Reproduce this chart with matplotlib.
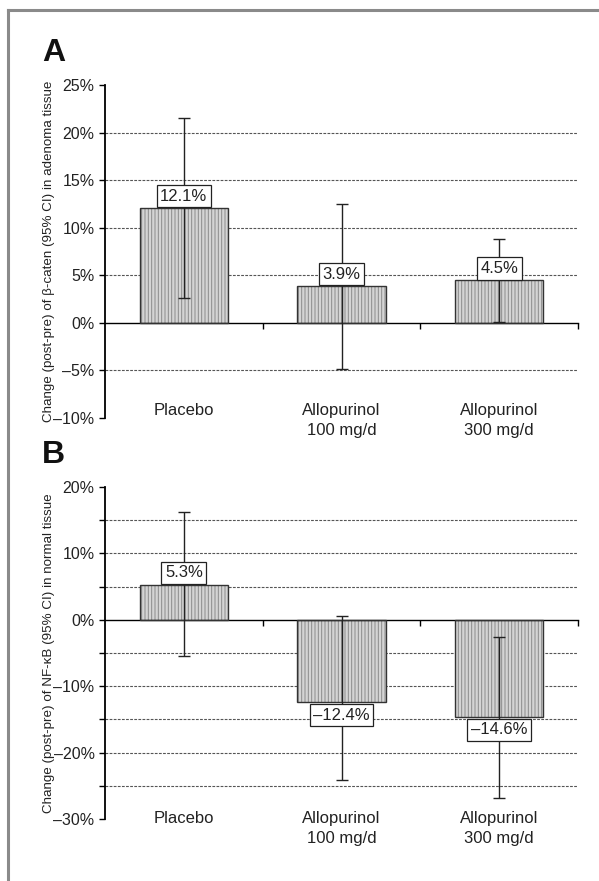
import numpy as np
import matplotlib.pyplot as plt
from matplotlib.lines import Line2D
from matplotlib.transforms import blended_transform_factory

plt.rcParams['font.family'] = ['Liberation Sans', 'DejaVu Sans']
plt.rcParams['hatch.linewidth'] = 0.7

# Datos
groups = ['Placebo', 'Allopurinol\n100 mg/d', 'Allopurinol\n300 mg/d']

a_vals = [12.1, 3.9, 4.5]
a_lo = [2.6, -4.9, 0.1]
a_hi = [21.5, 12.5, 8.8]
a_ticks = [25, 20, 15, 10, 5, 0, -5, -10]
a_grid = [20, 15, 10, 5, -5]

b_vals = [5.3, -12.4, -14.6]
b_lo = [-5.5, -24.2, -26.8]
b_hi = [16.2, 0.6, -2.6]
b_ticks = [20, 10, 0, -10, -20, -30]
b_grid = [15, 10, 5, -5, -10, -15, -20, -25]

a_ylabel = 'Change (post-pre) of \u03b2-caten (95% CI) in adenoma tissue'
b_ylabel = 'Change (post-pre) of NF-\u03baB (95% CI) in normal tissue'


def pct(v):
    return ('\u2013' if v < 0 else '') + '%g%%' % abs(v)


fig = plt.figure(figsize=(5.99, 8.81), dpi=100)

# Marco gris (arriba e izquierda)
fig.add_artist(Line2D([8/599, 1], [1 - 10/881, 1 - 10/881], color='#8a8a8a', lw=2.2))
fig.add_artist(Line2D([8/599, 8/599], [0, 1 - 10/881], color='#8a8a8a', lw=2.2))


def panel(rect, vals, lo, hi, ticks, grid, minor, ylabel, letter, letter_y, cat_off):
    ax = fig.add_axes(rect)
    x = np.arange(len(vals))
    ax.set_xlim(-0.5, len(vals) - 0.5)
    ax.set_ylim(min(ticks), max(ticks))

    ax.hlines(grid, -0.5, len(vals) - 0.5, colors='#555555', lw=0.8,
              linestyles=(0, (2.5, 1.2)), zorder=1)

    ax.bar(x, vals, width=0.56, facecolor='#d4d4d4', edgecolor='#8a8a8a',
           hatch='|||||', lw=0, zorder=2)
    ax.bar(x, vals, width=0.56, fill=False, edgecolor='#333333', lw=1, zorder=3)

    vals = np.array(vals)
    err = [vals - np.array(lo), np.array(hi) - vals]
    ax.errorbar(x, vals, yerr=err, fmt='none', ecolor='#222222', elinewidth=1,
                capsize=4, capthick=1, zorder=4)

    for xi, v in zip(x, vals):
        off = 3 if v >= 0 else -4
        ax.annotate(pct(v), (xi, v), xytext=(0, off), textcoords='offset points',
                    ha='center', va='bottom' if v >= 0 else 'top', fontsize=12,
                    color='#222222',
                    bbox=dict(boxstyle='square,pad=0.22', fc='white', ec='#222222', lw=0.9),
                    zorder=5)

    for s in ['top', 'right']:
        ax.spines[s].set_visible(False)
    ax.spines['bottom'].set_position(('data', 0))
    ax.spines['bottom'].set_linewidth(1)
    ax.spines['left'].set_linewidth(1.3)

    ax.set_yticks(ticks)
    ax.set_yticklabels([pct(t) for t in ticks], fontsize=11.5, color='#222222')
    if minor:
        ax.set_yticks(minor, minor=True)
    ax.tick_params(axis='y', which='both', direction='out', length=4, width=1)
    ax.set_xticks([0.5, 1.5, 2.5])
    ax.set_xticklabels([])
    ax.tick_params(axis='x', direction='out', length=4, width=1)

    trans = blended_transform_factory(ax.transData, ax.transAxes)
    for xi, g in zip(x, groups):
        ax.text(xi, cat_off, g, transform=trans, ha='center', va='top',
                fontsize=12, color='#222222', linespacing=1.45)

    pos = ax.get_position()
    fig.text(49/599, (pos.y0 + pos.y1) / 2, ylabel, rotation=90, ha='center',
             va='center', fontsize=9.6, color='#222222')
    fig.text(42/599, letter_y, letter, fontsize=23, fontweight='bold',
             ha='left', va='center', color='#111111')
    return ax


panel([105/599, 1 - 418/881, 473/599, 333/881], a_vals, a_lo, a_hi, a_ticks,
      a_grid, None, a_ylabel, 'A', 1 - 53/881, 0.045)
panel([105/599, 1 - 819/881, 473/599, 332/881], b_vals, b_lo, b_hi, b_ticks,
      b_grid, [15, 5, -5, -15, -25], b_ylabel, 'B', 1 - 455/881, 0.025)

plt.savefig('out.png', dpi=100)
